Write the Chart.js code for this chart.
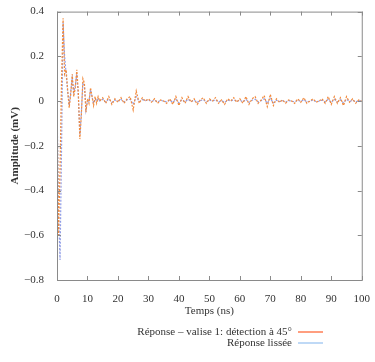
<!DOCTYPE html>
<html lang="fr">
<head>
<meta charset="UTF-8">
<title>Amplitude</title>
<script src="https://cdn.jsdelivr.net/npm/chart.js"></script>
<style>
  html, body { margin: 0; padding: 0; background: #fff; }
  #wrap { width: 375px; height: 362px; }
</style>
</head>
<body>
<div id="wrap"><canvas id="chart" width="375" height="362"></canvas></div>
<script>
// temps (ns)
const temps = [
  0, 0.5, 1, 1.5, 2, 2.5, 3, 3.5, 4, 4.5, 5, 5.5, 6, 6.5, 7, 7.5, 8, 8.5, 9, 9.5,
  10, 10.5, 11, 11.5, 12, 12.5, 13, 13.5, 14,
  15, 16, 17, 18, 19, 20, 21, 22, 23, 24, 25, 26, 27, 28, 29, 30, 31, 32, 33, 34,
  35, 36, 37, 38, 39, 40, 41, 42, 43, 44, 45, 46, 47, 48, 49, 50, 51, 52, 53, 54,
  55, 56, 57, 58, 59, 60, 61, 62, 63, 64, 65, 66, 67, 68, 69, 70, 71, 72, 73, 74,
  75, 76, 77, 78, 79, 80, 81, 82, 83, 84, 85, 86, 87, 88, 89, 90, 91, 92, 93, 94,
  95, 96, 97, 98, 99, 100
];
// réponse brute (mV)
const reponse = [
  0, -0.6, -0.3, 0.1, 0.37, 0.12, 0.14, 0.05, -0.03, 0.03, 0.12, 0.02, 0.06, 0.14, 0.04, -0.17, -0.06, 0.1, 0.08, -0.05,
  0.01, -0.01, 0.06, 0.02, -0.02, 0.02, -0.01, 0.02, 0,
  0.015, -0.01, 0.02, -0.015, 0.01, -0.005, 0.015, -0.01, 0.01, 0.02, -0.04, 0.045, -0.01, 0.015, 0, 0.01, -0.005, 0.01, -0.01, 0.005,
  0, -0.01, 0.01, -0.015, 0.02, -0.02, 0.015, -0.01, 0.02, -0.005, 0.01, -0.015, 0.005, 0.015, -0.01, 0.01, 0, 0.015, -0.01, 0.005,
  -0.015, 0.01, 0, 0.015, -0.005, 0.01, -0.01, 0.02, -0.015, 0.01, 0.02, -0.01, 0.005, 0.025, -0.025, 0.03, -0.02, 0.01, -0.005, 0.005,
  -0.01, 0.005, 0, -0.01, 0.01, -0.005, 0.015, -0.01, 0, 0.01, -0.005, 0, 0.01, -0.01, 0.02, -0.015, 0.02, -0.01, 0.015, -0.02,
  0.02, -0.005, 0.01, -0.01, 0.005, 0
];
// réponse lissée (mV)
const lissee = [
  0, -0.5, -0.71, -0.2, 0.35, 0.2, 0.12, 0.04, -0.02, 0.04, 0.1, 0.04, 0.07, 0.12, 0.02, -0.15, -0.05, 0.08, 0.07, -0.04,
  0, 0, 0.05, 0.02, -0.01, 0.01, 0, 0.01, 0,
  0.008, -0.005, 0.01, -0.006, 0.005, 0, 0.007, -0.004, 0.006, 0.008, -0.015, 0.02, -0.003, 0.006, 0.002, 0.005, -0.002, 0.004, -0.004, 0.003,
  0, -0.004, 0.005, -0.006, 0.008, -0.008, 0.006, -0.004, 0.008, -0.002, 0.004, -0.006, 0.002, 0.006, -0.004, 0.004, 0, 0.006, -0.004, 0.002,
  -0.006, 0.004, 0, 0.006, -0.002, 0.004, -0.004, 0.008, -0.006, 0.004, 0.008, -0.004, 0.002, 0.01, -0.01, 0.012, -0.008, 0.004, -0.002, 0.002,
  -0.004, 0.002, 0, -0.004, 0.004, -0.002, 0.006, -0.004, 0, 0.004, -0.002, 0, 0.004, -0.004, 0.008, -0.006, 0.008, -0.004, 0.006, -0.008,
  0.008, -0.002, 0.004, -0.004, 0.002, 0
];
const legendes = ['Réponse – valise 1: détection à 45°', 'Réponse lissée'];
const couleurs = ['#f28a3c', '#8f9ce6'];

const serif = '"Liberation Serif", "DejaVu Serif", serif';

// cadre + graduations vers l'intérieur
const cadre = {
  id: 'cadre',
  afterDatasetsDraw(chart) {
    const { ctx, chartArea: a, scales } = chart;
    ctx.save();
    ctx.setLineDash([]);
    ctx.strokeStyle = '#8a8a8a';
    ctx.lineWidth = 1;
    ctx.strokeRect(a.left + 0.5, a.top + 0.5, a.right - a.left, a.bottom - a.top);
    ctx.beginPath();
    scales.x.ticks.forEach(t => {
      const px = Math.round(scales.x.getPixelForValue(t.value)) + 0.5;
      ctx.moveTo(px, a.top); ctx.lineTo(px, a.top + 4);
      ctx.moveTo(px, a.bottom); ctx.lineTo(px, a.bottom - 4);
    });
    scales.y.ticks.forEach(t => {
      const py = Math.round(scales.y.getPixelForValue(t.value)) + 0.5;
      ctx.moveTo(a.left, py); ctx.lineTo(a.left + 4, py);
      ctx.moveTo(a.right, py); ctx.lineTo(a.right - 4, py);
    });
    ctx.stroke();
    ctx.restore();
  }
};

// légende : texte aligné à droite, trait à droite du texte
const legende = {
  id: 'legende',
  afterDraw(chart) {
    const { ctx } = chart;
    ctx.save();
    ctx.setLineDash([]);
    ctx.font = '11px ' + serif;
    ctx.fillStyle = '#333';
    ctx.textAlign = 'right';
    ctx.textBaseline = 'middle';
    chart.data.datasets.forEach((ds, i) => {
      const y = 332 + i * 11;
      ctx.fillText(ds.label, 292, y);
      ctx.strokeStyle = i === 0 ? '#ff6a3a' : '#9cc4f2';
      ctx.lineWidth = 1.3;
      ctx.beginPath();
      ctx.moveTo(298, y);
      ctx.lineTo(323, y);
      ctx.stroke();
    });
    ctx.restore();
  }
};

new Chart(document.getElementById('chart'), {
  type: 'line',
  data: {
    datasets: [
      {
        label: legendes[0],
        data: temps.map((t, i) => ({ x: t, y: reponse[i] })),
        borderColor: couleurs[0],
        borderWidth: 1.2,
        borderDash: [2, 1.5],
        pointRadius: 0,
        tension: 0
      },
      {
        label: legendes[1],
        data: temps.map((t, i) => ({ x: t, y: lissee[i] })),
        borderColor: couleurs[1],
        borderWidth: 1.2,
        borderDash: [2, 1.5],
        pointRadius: 0,
        tension: 0
      }
    ]
  },
  options: {
    responsive: false,
    animation: false,
    layout: { padding: { left: 0, right: 10, top: 11, bottom: 42 } },
    plugins: { legend: { display: false }, tooltip: { enabled: false } },
    scales: {
      x: {
        type: 'linear',
        min: 0, max: 100,
        grid: { display: false },
        border: { display: false },
        ticks: { stepSize: 10, padding: 5, color: '#333', font: { family: serif, size: 11 } },
        title: { display: true, text: 'Temps (ns)', color: '#333', padding: { top: 0, bottom: 2 }, font: { family: serif, size: 11 } },
        afterFit: s => { s.height = 40; }
      },
      y: {
        min: -0.8, max: 0.4,
        grid: { display: false },
        border: { display: false },
        ticks: {
          stepSize: 0.2, padding: 5, color: '#333', font: { family: serif, size: 11 },
          callback: v => {
            const r = Math.round(v * 10) / 10;
            if (r === 0) return '0';
            return (r < 0 ? '−' : '') + Math.abs(r).toFixed(1);
          }
        },
        title: { display: true, text: 'Amplitude (mV)', color: '#333', padding: { top: 9, bottom: 0 }, font: { family: serif, size: 11, weight: 'bold' } },
        afterFit: s => { s.width = 57; }
      }
    }
  },
  plugins: [cadre, legende]
});
</script>
</body>
</html>
